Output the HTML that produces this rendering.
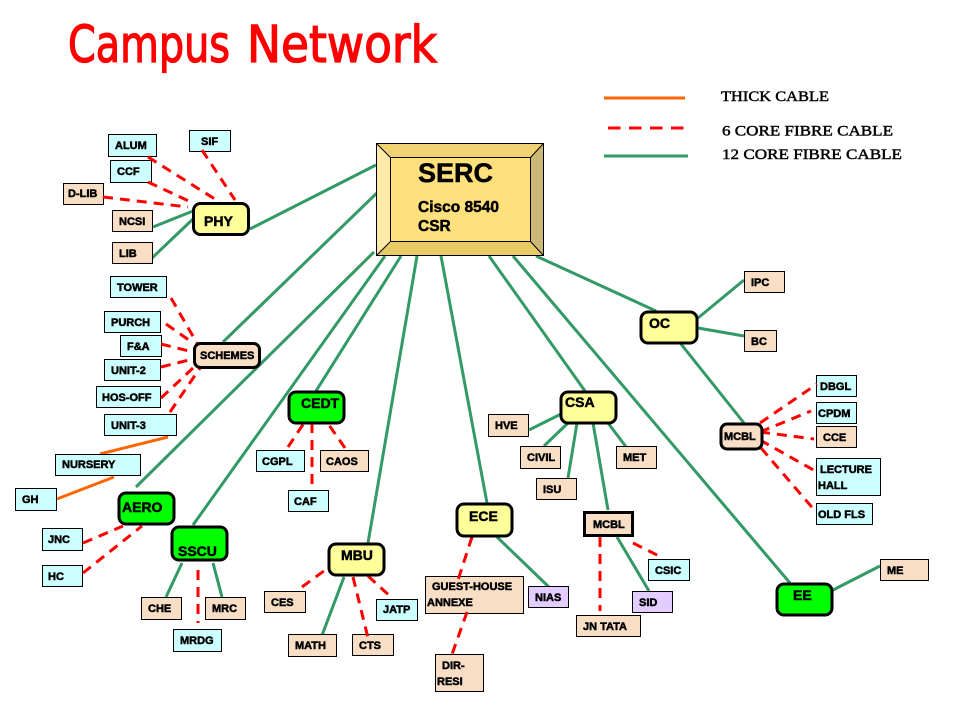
<!DOCTYPE html>
<html><head><meta charset="utf-8"><title>Campus Network</title>
<style>
html,body{margin:0;padding:0;background:#fff}
svg{display:block}
text{font-family:"Liberation Sans",Arial,sans-serif;font-weight:bold;font-size:11px;fill:#000;stroke:#000;stroke-width:.5}
.g line{stroke:#339966;stroke-width:3}
.r line{stroke:#ff0000;stroke-width:3;stroke-dasharray:10 7}
.o line{stroke:#ff6600;stroke-width:3}
.b rect{stroke:#000;stroke-width:1}
.c{fill:#ccffff}.p{fill:#f9dec6}.l{fill:#e3ccff}
.n rect{stroke:#000;stroke-width:3}
.y{fill:#ffff99}.v{fill:#00ff00}
.big{font-size:14px}
.t{font-family:"DejaVu Sans",sans-serif;font-weight:normal;font-size:51px;fill:#ff0000;stroke:#ff0000;stroke-width:1.3}
.lg{font-family:"Liberation Serif",serif;font-weight:normal;font-size:15px;stroke-width:.45}
</style></head><body>
<svg xmlns="http://www.w3.org/2000/svg" width="960" height="720" viewBox="0 0 960 720">
<rect width="960" height="720" fill="#fff"/>
<text class="t" x="68" y="62" textLength="162" lengthAdjust="spacingAndGlyphs">Campus</text>
<text class="t" x="247" y="62" textLength="190" lengthAdjust="spacingAndGlyphs">Network</text>

<g class="o"><line x1="604" y1="98" x2="685" y2="98"/></g>
<line x1="608" y1="128" x2="685" y2="128" stroke="#ff0000" stroke-width="3" stroke-dasharray="12.5 8.5"/>
<g class="g"><line x1="604" y1="156" x2="688" y2="156"/></g>
<text class="lg" x="721" y="101" textLength="108" lengthAdjust="spacingAndGlyphs">THICK CABLE</text>
<text class="lg" x="722" y="135.5" textLength="171" lengthAdjust="spacingAndGlyphs">6 CORE FIBRE CABLE</text>
<text class="lg" x="722" y="159" textLength="180" lengthAdjust="spacingAndGlyphs">12 CORE FIBRE CABLE</text>

<!-- backbone -->
<g class="g">
<line x1="376" y1="165" x2="250" y2="229"/>
<line x1="381" y1="189" x2="223" y2="342"/>
<line x1="374" y1="252" x2="136" y2="487"/>
<line x1="385" y1="256" x2="193" y2="525"/>
<line x1="401" y1="256" x2="316" y2="391"/>
<line x1="417" y1="256" x2="368" y2="543"/>
<line x1="441" y1="256" x2="487" y2="503"/>
<line x1="489" y1="256" x2="585" y2="391"/>
<line x1="536" y1="256" x2="656" y2="311"/>
<line x1="513" y1="256" x2="790" y2="583"/>
<line x1="153" y1="227" x2="193" y2="211"/>
<line x1="152" y1="258" x2="193" y2="219"/>
<line x1="529" y1="430" x2="561" y2="414"/>
<line x1="544" y1="446" x2="568" y2="423"/>
<line x1="568" y1="478" x2="577" y2="423"/>
<line x1="630" y1="452" x2="608" y2="423"/>
<line x1="608" y1="510" x2="593" y2="423"/>
<line x1="617" y1="537" x2="649" y2="591"/>
<line x1="497" y1="537" x2="552" y2="590"/>
<line x1="166" y1="597" x2="182" y2="563"/>
<line x1="222" y1="597" x2="213" y2="563"/>
<line x1="321" y1="638" x2="344" y2="577"/>
<line x1="698" y1="318" x2="744" y2="280"/>
<line x1="698" y1="328" x2="744" y2="336"/>
<line x1="681" y1="344" x2="744" y2="423"/>
<line x1="833" y1="590" x2="880" y2="566"/>
</g>
<g class="o">
<line x1="168" y1="437" x2="100" y2="454"/>
<line x1="114" y1="477" x2="57" y2="499"/>
</g>

<!-- boxes -->
<g class="b">
<rect class="c" x="108.5" y="134.5" width="48" height="22"/>
<rect class="c" x="110.5" y="160.5" width="41" height="22"/>
<rect class="c" x="189.5" y="130.5" width="41" height="21"/>
<rect class="p" x="63.5" y="183.5" width="40" height="21"/>
<rect class="p" x="112.5" y="210.5" width="40" height="21"/>
<rect class="p" x="112.5" y="242.5" width="40" height="21"/>
<rect class="c" x="110.5" y="276.5" width="56" height="21"/>
<rect class="c" x="104.5" y="311.5" width="56" height="21"/>
<rect class="c" x="120.5" y="335.5" width="41" height="21"/>
<rect class="c" x="104.5" y="359.5" width="56" height="21"/>
<rect class="c" x="96.5" y="386.5" width="64" height="21"/>
<rect class="c" x="104.5" y="414.5" width="72" height="21"/>
<rect class="c" x="55.5" y="454.5" width="85" height="21"/>
<rect class="c" x="15.5" y="488.5" width="41" height="22"/>
<rect class="c" x="42.5" y="528.5" width="40" height="22"/>
<rect class="c" x="42.5" y="565.5" width="40" height="21"/>
<rect class="p" x="141.5" y="597.5" width="40" height="22"/>
<rect class="p" x="205.5" y="597.5" width="40" height="22"/>
<rect class="c" x="173.5" y="629.5" width="48" height="22"/>
<rect class="c" x="256.5" y="450.5" width="48" height="21"/>
<rect class="c" x="288.5" y="490.5" width="40" height="21"/>
<rect class="p" x="320.5" y="450.5" width="48" height="21"/>
<rect class="p" x="264.5" y="591.5" width="41" height="21"/>
<rect class="p" x="288.5" y="634.5" width="48" height="22"/>
<rect class="p" x="352.5" y="634.5" width="41" height="21"/>
<rect class="c" x="376.5" y="599.5" width="41" height="21"/>
<rect class="p" x="425.5" y="576.5" width="98" height="37"/>
<rect class="l" x="528.5" y="586.5" width="40" height="21"/>
<rect class="p" x="435.5" y="654.5" width="48" height="37"/>
<rect class="p" x="576.5" y="615.5" width="64" height="21"/>
<rect class="c" x="648.5" y="559.5" width="41" height="21"/>
<rect class="l" x="632.5" y="591.5" width="40" height="21"/>
<rect class="p" x="488.5" y="414.5" width="40" height="22"/>
<rect class="p" x="520.5" y="446.5" width="40" height="22"/>
<rect class="p" x="536.5" y="478.5" width="40" height="21"/>
<rect class="p" x="616.5" y="446.5" width="40" height="22"/>
<rect class="p" x="744.5" y="271.5" width="40" height="21"/>
<rect class="p" x="744.5" y="330.5" width="32" height="21"/>
<rect class="c" x="816.5" y="375.5" width="40" height="21"/>
<rect class="c" x="816.5" y="402.5" width="40" height="21"/>
<rect class="p" x="816.5" y="426.5" width="40" height="21"/>
<rect class="c" x="816.5" y="458.5" width="64" height="37"/>
<rect class="c" x="816.5" y="503.5" width="56" height="21"/>
<rect class="p" x="880.5" y="559.5" width="48" height="21"/>
</g>

<!-- dashed -->
<g class="r">
<line x1="148" y1="157" x2="218" y2="201"/>
<line x1="148" y1="182" x2="193" y2="203"/>
<line x1="103" y1="197" x2="188" y2="207"/>
<line x1="202" y1="150" x2="235" y2="200"/>
<line x1="171" y1="298" x2="198" y2="345"/>
<line x1="166" y1="324" x2="193" y2="343"/>
<line x1="161" y1="344" x2="193" y2="352"/>
<line x1="161" y1="367" x2="193" y2="359"/>
<line x1="161" y1="398" x2="193" y2="368"/>
<line x1="170" y1="412" x2="200" y2="368"/>
<line x1="83" y1="543" x2="123" y2="526"/>
<line x1="83" y1="573" x2="142" y2="526"/>
<line x1="198" y1="570" x2="198" y2="623"/>
<line x1="288" y1="447" x2="304" y2="423"/>
<line x1="312" y1="423" x2="312" y2="488"/>
<line x1="345" y1="448" x2="329" y2="425"/>
<line x1="302" y1="587" x2="328" y2="568"/>
<line x1="353" y1="577" x2="368" y2="638"/>
<line x1="368" y1="576" x2="392" y2="598"/>
<line x1="472" y1="537" x2="457" y2="583"/>
<line x1="467" y1="612" x2="450" y2="660"/>
<line x1="633" y1="543" x2="663" y2="558"/>
<line x1="600" y1="537" x2="600" y2="611"/>
<line x1="760" y1="423" x2="817" y2="384"/>
<line x1="760" y1="432" x2="811" y2="411"/>
<line x1="760" y1="432" x2="814" y2="439"/>
<line x1="760" y1="440" x2="817" y2="472"/>
<line x1="761" y1="448" x2="816" y2="512"/>
</g>

<!-- SERC -->
<polygon points="376,143 544,143 531,157 391,157" fill="#f0d272"/>
<polygon points="376,143 391,157 391,242 376,256" fill="#ffe9a8"/>
<polygon points="544,143 544,256 531,242 531,157" fill="#cdb878"/>
<polygon points="376,256 391,242 531,242 544,256" fill="#e8ca66"/>
<rect x="391" y="157" width="140" height="85" fill="#ffe07c"/>
<g fill="none" stroke="#000" stroke-width="1">
<rect x="376.5" y="143.5" width="167" height="112"/>
<rect x="390.5" y="157.5" width="140" height="84"/>
<line x1="377" y1="144" x2="391" y2="158"/>
<line x1="543" y1="144" x2="530" y2="158"/>
<line x1="377" y1="255" x2="391" y2="241"/>
<line x1="543" y1="255" x2="530" y2="241"/>
</g>
<text x="418" y="182" style="font-size:27px">SERC</text>
<text x="418" y="212" style="font-size:15.5px">Cisco 8540</text>
<text x="418" y="231" style="font-size:15.5px">CSR</text>

<!-- nodes -->
<g class="n">
<rect class="y" x="193.5" y="203.5" width="55" height="31" rx="7"/>
<rect class="p" x="194.5" y="343.5" width="65" height="24" rx="6"/>
<rect class="v" x="119" y="493" width="55" height="31" rx="7"/>
<rect class="v" x="172" y="527" width="55" height="33" rx="7"/>
<rect class="v" x="289" y="392" width="55" height="31" rx="7"/>
<rect class="y" x="329" y="544" width="55" height="31" rx="7"/>
<rect class="y" x="457" y="504" width="55" height="32" rx="7"/>
<rect class="p" x="584.5" y="512.5" width="48" height="23"/>
<rect class="y" x="561" y="392" width="55" height="31" rx="7"/>
<rect class="y" x="641" y="312" width="56" height="31" rx="7"/>
<rect class="p" x="721" y="424" width="41" height="25" rx="6"/>
<rect class="v" x="777" y="584" width="55" height="31" rx="7"/>
</g>

<!-- labels -->
<text x="115" y="149">ALUM</text>
<text x="117" y="175">CCF</text>
<text x="201" y="145">SIF</text>
<text x="68" y="197">D-LIB</text>
<text x="119" y="225">NCSI</text>
<text x="119" y="257">LIB</text>
<text x="117" y="291">TOWER</text>
<text x="111" y="326">PURCH</text>
<text x="127" y="350">F&amp;A</text>
<text x="111" y="374">UNIT-2</text>
<text x="102" y="401">HOS-OFF</text>
<text x="111" y="429">UNIT-3</text>
<text x="62" y="468">NURSERY</text>
<text x="22" y="503">GH</text>
<text x="48" y="543">JNC</text>
<text x="48" y="580">HC</text>
<text x="148" y="612">CHE</text>
<text x="212" y="612">MRC</text>
<text x="180" y="644">MRDG</text>
<text class="big" x="122" y="512">AERO</text>
<text class="big" x="178" y="556">SSCU</text>
<text class="big" x="204" y="226">PHY</text>
<text x="200" y="359">SCHEMES</text>
<text class="big" x="301" y="408">CEDT</text>
<text x="262" y="465">CGPL</text>
<text x="294" y="505">CAF</text>
<text x="326" y="465">CAOS</text>
<text class="big" x="341" y="560">MBU</text>
<text x="271" y="606">CES</text>
<text x="295" y="649">MATH</text>
<text x="359" y="649">CTS</text>
<text x="383" y="613">JATP</text>
<text class="big" x="469" y="521">ECE</text>
<text x="432" y="590">GUEST-HOUSE</text>
<text x="427" y="606">ANNEXE</text>
<text x="535" y="601">NIAS</text>
<text x="442" y="669">DIR-</text>
<text x="437" y="685">RESI</text>
<text x="593" y="528">MCBL</text>
<text x="583" y="630">JN TATA</text>
<text x="655" y="574">CSIC</text>
<text x="639" y="606">SID</text>
<text class="big" x="565" y="407">CSA</text>
<text x="495" y="429">HVE</text>
<text x="527" y="461">CIVIL</text>
<text x="543" y="493">ISU</text>
<text x="623" y="461">MET</text>
<text class="big" x="649" y="328">OC</text>
<text x="751" y="286">IPC</text>
<text x="751" y="345">BC</text>
<text x="724" y="440">MCBL</text>
<text x="820" y="390">DBGL</text>
<text x="818" y="417">CPDM</text>
<text x="823" y="441">CCE</text>
<text x="820" y="473">LECTURE</text>
<text x="818" y="489">HALL</text>
<text x="818" y="518">OLD FLS</text>
<text class="big" x="793" y="600">EE</text>
<text x="887" y="574">ME</text>
</svg>
</body></html>
